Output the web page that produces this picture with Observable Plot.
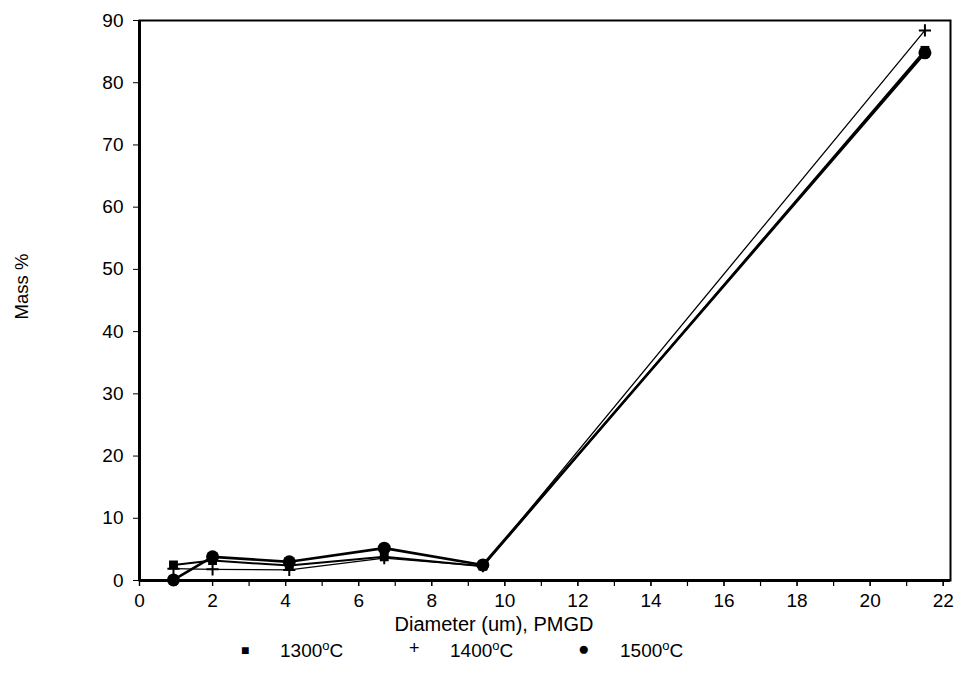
<!DOCTYPE html>
<html>
<head>
<meta charset="utf-8">
<script src="https://cdn.jsdelivr.net/npm/d3@7"></script>
<script src="https://cdn.jsdelivr.net/npm/@observablehq/plot@0.6"></script>
<style>
  body { margin: 0; background: #fff; font-family: "Liberation Sans", Arial, sans-serif; }
  #chart { position: relative; width: 969px; }
  #legend { position: relative; height: 40px; width: 969px; font-size: 19px; color: #000; }
  #legend span { position: absolute; top: 2px; }
  sup { font-size: 13px; }
</style>
</head>
<body>
<div id="chart"></div>
<div id="legend"></div>
<script>
const diameters = [0.93, 2.0, 4.1, 6.7, 9.4, 21.5];
const mass1300 = [2.5, 3.2, 2.4, 3.8, 2.3, 85.2];
const mass1400 = [1.9, 1.8, 1.7, 3.6, 2.3, 88.4];
const mass1500 = [0.1, 3.8, 3.0, 5.2, 2.5, 84.8];
const seriesNames = ["1300°C", "1400°C", "1500°C"];
const xTicks = [0, 2, 4, 6, 8, 10, 12, 14, 16, 18, 20, 22];
const xMinorTicks = d3.range(0, 23);
const yTicks = [0, 10, 20, 30, 40, 50, 60, 70, 80, 90];
const xTitle = ["Diameter (um), PMGD"];
const yTitle = ["Mass %"];

const rows = (vals, name) => diameters.map((d, i) => ({x: d, y: vals[i], s: name}));
const s1300 = rows(mass1300, seriesNames[0]);
const s1400 = rows(mass1400, seriesNames[1]);
const s1500 = rows(mass1500, seriesNames[2]);

const chart = Plot.plot({
  width: 969,
  height: 636,
  marginTop: 20,
  marginLeft: 139,
  marginRight: 19,
  marginBottom: 56,
  style: {fontFamily: "'Liberation Sans', Arial, sans-serif", fontSize: "19px", color: "#000", background: "#fff"},
  x: {domain: [0, 22.2]},
  y: {domain: [0, 90]},
  marks: [
    Plot.frame({stroke: "#000", strokeWidth: 2}),
    Plot.ruleX([0], {stroke: "#000", strokeWidth: 3}),
    Plot.ruleY([0], {stroke: "#000", strokeWidth: 3}),
    Plot.axisX({ticks: xMinorTicks, tickFormat: () => "", tickSize: 6, strokeWidth: 1.2, label: null}),
    Plot.axisX({ticks: xTicks, tickSize: 6, tickPadding: 7, strokeWidth: 1.2, fontSize: 19, label: null}),
    Plot.axisY({ticks: yTicks, tickSize: 6, tickPadding: 10, strokeWidth: 1, fontSize: 19, label: null}),
    Plot.text(xTitle, {frameAnchor: "bottom", text: d => d, dx: -51, dy: 44, lineAnchor: "middle", fontSize: 20, fill: "#000"}),
    Plot.text(yTitle, {frameAnchor: "left", text: d => d, dx: -117, dy: -14, rotate: -90, textAnchor: "middle", fontSize: 18.5, fill: "#000"}),
    Plot.line(s1400, {x: "x", y: "y", stroke: "#000", strokeWidth: 1.3}),
    Plot.line(s1300, {x: "x", y: "y", stroke: "#000", strokeWidth: 2}),
    Plot.line(s1500, {x: "x", y: "y", stroke: "#000", strokeWidth: 2.6}),
    Plot.dot(s1300, {x: "x", y: "y", symbol: "square", r: 5, fill: "#000"}),
    Plot.dot(s1400, {x: "x", y: "y", symbol: "plus", r: 4, stroke: "#000", strokeWidth: 2}),
    Plot.dot(s1500, {x: "x", y: "y", symbol: "circle", r: 6.5, fill: "#000"})
  ]
});
document.getElementById("chart").appendChild(chart);

// legend
const legend = document.getElementById("legend");
const items = [
  {sym: "■", symX: 241, symSize: 14, txtX: 280, name: seriesNames[0]},
  {sym: "+", symX: 409, symSize: 18, txtX: 450, name: seriesNames[1]},
  {sym: "●", symX: 578, symSize: 19, txtX: 620, name: seriesNames[2]}
];
for (const it of items) {
  const s = document.createElement("span");
  s.style.left = it.symX + "px";
  s.style.fontSize = it.symSize + "px";
  s.style.top = (it.sym === "■" ? 6 : 2) + "px";
  s.textContent = it.sym;
  legend.appendChild(s);
  const t = document.createElement("span");
  t.style.left = it.txtX + "px";
  const [num, unit] = it.name.split("°");
  t.innerHTML = num + "<sup>o</sup>" + unit;
  legend.appendChild(t);
}
</script>
</body>
</html>
